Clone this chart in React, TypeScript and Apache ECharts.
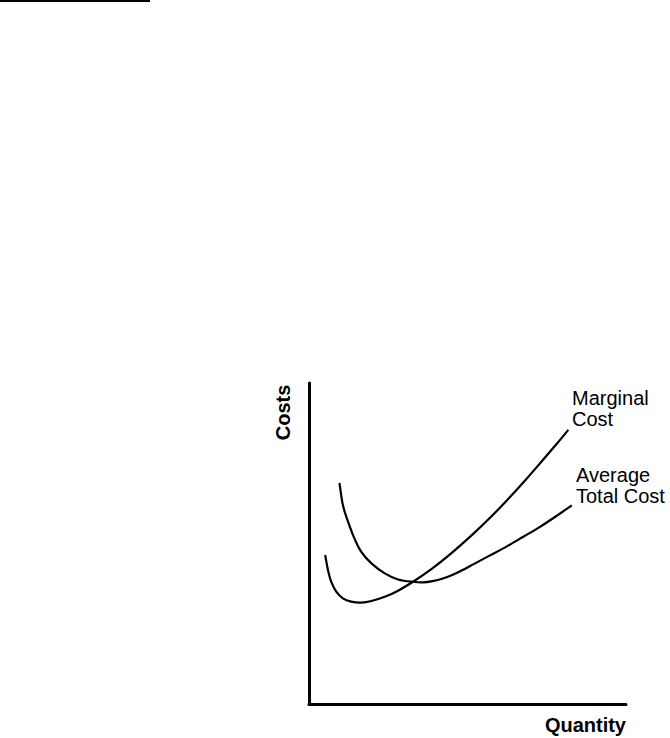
import React, { useEffect, useRef } from "react";
import * as echarts from "echarts";

// Marginal Cost curve points [quantity, cost]
const marginalCost: [number, number][] = [
  [0.51, 4.64], [0.6, 4.17], [0.7, 3.81], [0.86, 3.5], [1.07, 3.29],
  [1.33, 3.19], [1.65, 3.16], [1.97, 3.21], [2.39, 3.34], [2.81, 3.53],
  [3.33, 3.84], [3.86, 4.2], [4.4, 4.62], [5.18, 5.3], [5.71, 5.8],
  [6.24, 6.34], [6.76, 6.9], [7.29, 7.5], [7.81, 8.1], [8.18, 8.54],
];

// Average Total Cost curve points [quantity, cost]
const averageTotalCost: [number, number][] = [
  [0.96, 6.89], [1.08, 6.15], [1.29, 5.52], [1.45, 5.12], [1.65, 4.74],
  [1.97, 4.38], [2.39, 4.07], [2.81, 3.88], [3.33, 3.8], [3.6, 3.79],
  [3.9, 3.83], [4.2, 3.9], [4.5, 4.01], [4.8, 4.15], [5.18, 4.35],
  [5.71, 4.63], [6.24, 4.91], [6.76, 5.21], [7.29, 5.52], [7.81, 5.86],
  [8.29, 6.19],
];

const axisNames = { x: "Quantity", y: "Costs" };
const curveLabels = { mc: "Marginal\nCost", atc: "Average\nTotal Cost" };

// Build a smooth cubic Bezier path through pixel points
function smoothPath(pts: number[][]): string {
  const n = pts.length;
  const tangent = (i: number) => {
    const a = pts[Math.max(0, i - 1)];
    const b = pts[Math.min(n - 1, i + 1)];
    const dx = b[0] - a[0];
    const dy = b[1] - a[1];
    const len = Math.hypot(dx, dy) || 1;
    return [dx / len, dy / len];
  };
  let d = `M${pts[0][0]},${pts[0][1]}`;
  for (let i = 0; i < n - 1; i++) {
    const p0 = pts[i];
    const p1 = pts[i + 1];
    const seg = Math.hypot(p1[0] - p0[0], p1[1] - p0[1]) / 3;
    const t0 = tangent(i);
    const t1 = tangent(i + 1);
    const c1 = [p0[0] + t0[0] * seg, p0[1] + t0[1] * seg];
    const c2 = [p1[0] - t1[0] * seg, p1[1] - t1[1] * seg];
    d += ` C${c1[0]},${c1[1]} ${c2[0]},${c2[1]} ${p1[0]},${p1[1]}`;
  }
  return d;
}

function curveSeries(name: string, data: [number, number][]) {
  return {
    name,
    type: "custom",
    coordinateSystem: "cartesian2d",
    data,
    encode: { x: 0, y: 1 },
    clip: false,
    renderItem: (params: any, api: any) => {
      if (params.dataIndex !== 0) return null;
      const pts = data.map((p) => api.coord(p));
      return {
        type: "path",
        shape: { pathData: smoothPath(pts) },
        style: { fill: "none", stroke: "#000", lineWidth: 2.2 },
      };
    },
  };
}

export default function App() {
  const ref = useRef<HTMLDivElement>(null);
  useEffect(() => {
    if (!ref.current) return;
    const chart = echarts.init(ref.current, undefined, { renderer: "svg" });
    const font = "'Liberation Sans', Arial, Helvetica, sans-serif";
    chart.setOption({
      animation: false,
      backgroundColor: "#fff",
      grid: { left: 309, right: 44, top: 383, bottom: 34 },
      xAxis: {
        type: "value",
        min: 0,
        max: 10,
        axisLine: { show: true, onZero: false, lineStyle: { color: "#000", width: 3 } },
        axisTick: { show: false },
        axisLabel: { show: false },
        splitLine: { show: false },
      },
      yAxis: {
        type: "value",
        min: 0,
        max: 10,
        axisLine: { show: true, onZero: false, lineStyle: { color: "#000", width: 3 } },
        axisTick: { show: false },
        axisLabel: { show: false },
        splitLine: { show: false },
      },
      series: [
        curveSeries("Marginal Cost", marginalCost),
        curveSeries("Average Total Cost", averageTotalCost),
      ],
      graphic: [
        { type: "rect", shape: { x: 0, y: 0, width: 150, height: 2 }, style: { fill: "#000" } },
        {
          type: "text",
          x: 282.5,
          y: 412.5,
          rotation: Math.PI / 2,
          style: {
            text: axisNames.y,
            font: `bold 20px ${font}`,
            fill: "#000",
            textAlign: "center",
            textVerticalAlign: "middle",
          },
        },
        {
          type: "text",
          x: 626,
          y: 725,
          style: {
            text: axisNames.x,
            font: `bold 20px ${font}`,
            fill: "#000",
            textAlign: "right",
            textVerticalAlign: "middle",
          },
        },
        {
          type: "text",
          x: 572,
          y: 387,
          style: {
            text: curveLabels.mc,
            font: `20px ${font}`,
            lineHeight: 21,
            fill: "#000",
            textAlign: "left",
            textVerticalAlign: "top",
          },
        },
        {
          type: "text",
          x: 576,
          y: 464,
          style: {
            text: curveLabels.atc,
            font: `20px ${font}`,
            lineHeight: 21,
            fill: "#000",
            textAlign: "left",
            textVerticalAlign: "top",
          },
        },
      ],
    });
    return () => chart.dispose();
  }, []);
  return (
    <div
      ref={ref}
      style={{ position: "absolute", left: 0, top: 0, width: 670, height: 738 }}
    />
  );
}
